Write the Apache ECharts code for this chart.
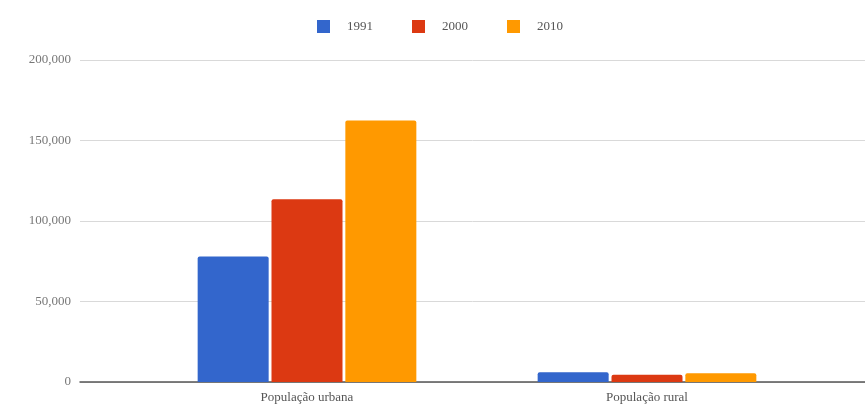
<!DOCTYPE html>
<html><head><meta charset="utf-8">
<script src="https://cdn.jsdelivr.net/npm/echarts@6/dist/echarts.min.js"></script>
<style>html,body{margin:0;padding:0;background:#fff}#c{width:865px;height:409px}</style>
</head><body><div id="c"></div>
<script>
const categories = ['População urbana', 'População rural'];
const years = ['1991', '2000', '2010'];
const v1991 = [78000, 6000];
const v2000 = [113500, 4500];
const v2010 = [162500, 5500];
const yTicks = [0, 50000, 100000, 150000, 200000];
const colors = ['#3366cc', '#dc3912', '#ff9900'];

const font = '"Liberation Serif", "DejaVu Serif", serif';
const chart = echarts.init(document.getElementById('c'));
const seriesData = [v1991, v2000, v2010];
chart.setOption({
  animation: false,
  color: colors,
  legend: {
    top: 15, left: 312,
    itemWidth: 13, itemHeight: 13, itemGap: 39,
    icon: 'rect',
    textStyle: { fontFamily: font, fontSize: 13, color: '#555', padding: [0, 0, 0, 12] },
    data: years
  },
  grid: [
    { left: 80, right: 0, top: 60, bottom: 27 },
    { left: 137, right: 48, top: 60, bottom: 27 }
  ],
  xAxis: [
    { gridIndex: 0, type: 'value', min: 0, max: 1, show: true,
      axisLine: { show: true, lineStyle: { color: '#555', width: 1.5 } },
      axisTick: { show: false }, axisLabel: { show: false }, splitLine: { show: false } },
    { gridIndex: 1, type: 'category', data: categories,
      axisLine: { show: false }, axisTick: { show: false },
      axisLabel: { fontFamily: font, fontSize: 13, color: '#555', margin: 9 } }
  ],
  yAxis: [
    { gridIndex: 0, type: 'value', min: yTicks[0], max: yTicks[yTicks.length - 1], interval: 50000,
      axisLine: { show: false }, axisTick: { show: false },
      axisLabel: { fontFamily: font, fontSize: 13, color: '#777', margin: 9,
        formatter: v => v.toLocaleString('en-US') },
      splitLine: { lineStyle: { color: '#d9d9d9', width: 1 } } },
    { gridIndex: 1, type: 'value', min: yTicks[0], max: yTicks[yTicks.length - 1], interval: 50000,
      show: false, splitLine: { show: false } }
  ],
  series: years.map((y, i) => ({
    name: y, type: 'bar', xAxisIndex: 1, yAxisIndex: 1,
    data: seriesData[i],
    barWidth: 71, barGap: '4%',
    itemStyle: { color: colors[i], borderRadius: [2, 2, 0, 0] }
  }))
});
</script></body></html>
